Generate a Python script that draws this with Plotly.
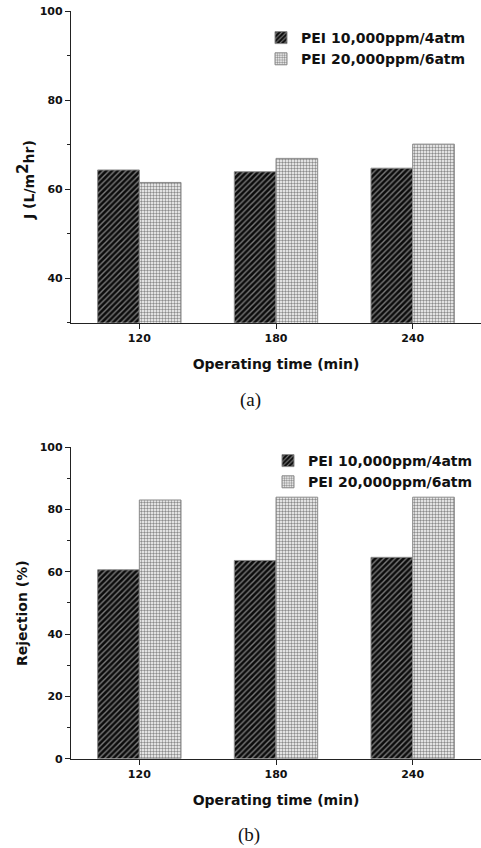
import plotly.graph_objects as go

categories = ["120", "180", "240"]
series_names = ["PEI 10,000ppm/4atm", "PEI 20,000ppm/6atm"]
flux_s1 = [64.3, 63.9, 64.7]
flux_s2 = [61.5, 66.9, 70.1]
rej_s1 = [60.6, 63.6, 64.6]
rej_s2 = [83.0, 83.9, 83.9]

W, H = 481, 848
FONT = "DejaVu Sans"
AX = "#222222"

def px_x(p):
    return p / W

def px_y(p):
    return 1 - p / H

styles = [
    dict(color="#1a1a1a", line=dict(color="#8a8a8a", width=1),
         pattern=dict(shape="/", size=4, solidity=0.35, fgcolor="#7a7a7a", bgcolor="#0c0c0c", fillmode="replace")),
    dict(color="#ffffff", line=dict(color="#8a8a8a", width=1),
         pattern=dict(shape=".", size=3, solidity=0.5, fgcolor="#8c8c8c", bgcolor="#ffffff", fillmode="replace")),
]

fig = go.Figure()
for i, (vals, name) in enumerate(zip([flux_s1, flux_s2], series_names)):
    fig.add_trace(go.Bar(x=categories, y=vals, name=name, marker=styles[i],
                         xaxis="x", yaxis="y", legend="legend"))
for i, (vals, name) in enumerate(zip([rej_s1, rej_s2], series_names)):
    fig.add_trace(go.Bar(x=categories, y=vals, name=name, marker=styles[i],
                         xaxis="x3", yaxis="y3", legend="legend2"))

xdom = [px_x(71), 1.0]
top_dom = [px_y(322.7), px_y(11)]
bot_dom = [px_y(758.7), px_y(447)]

tickfont = dict(family=FONT, size=11, color="#111", weight="bold")
titlefont = dict(family=FONT, size=14, color="#111", weight="bold")

def xcat(domain, anchor, title):
    return dict(domain=domain, anchor=anchor, type="category", range=[-0.5, 2.5],
                automargin=False,
                showline=True, linecolor=AX, linewidth=1.2, ticks="outside", ticklen=5,
                tickcolor=AX, tickwidth=1.2, tickfont=tickfont, showgrid=False, zeroline=False,
                title=dict(text=title, font=titlefont, standoff=15))

def xtop(domain, overlay, anchor):
    return dict(domain=domain, overlaying=overlay, anchor=anchor, side="top", range=[0, 10],
                automargin=False,
                dtick=1, showline=True, linecolor=AX, linewidth=1.2, ticks="inside", ticklen=3,
                tickcolor=AX, showticklabels=False, showgrid=False, zeroline=False)

def yax(domain, anchor, rng):
    return dict(domain=domain, anchor=anchor, range=rng, dtick=20, tick0=0,
                automargin=False,
                showline=True, linecolor=AX, linewidth=1.2, ticks="outside", ticklen=5,
                tickcolor=AX, tickwidth=1.2, tickfont=tickfont, showgrid=False, zeroline=False,
                minor=dict(dtick=10, ticks="outside", ticklen=3, tickcolor=AX))

legfont = dict(family=FONT, size=14, color="#111", weight="bold")

fig.update_layout(
    width=W, height=H, margin=dict(l=0, r=0, t=0, b=0),
    paper_bgcolor="white", plot_bgcolor="white",
    barmode="group", bargap=0.39, bargroupgap=0,
    xaxis=xcat(xdom, "y", "Operating time (min)"),
    xaxis2=xtop(xdom, "x", "y"),
    yaxis=yax(top_dom, "x", [30, 100]),
    xaxis3=xcat(xdom, "y3", "Operating time (min)"),
    xaxis4=xtop(xdom, "x3", "y3"),
    yaxis3=yax(bot_dom, "x3", [0, 100]),
    legend=dict(x=px_x(261), y=px_y(22), xanchor="left", yanchor="top",
                bgcolor="rgba(0,0,0,0)", itemwidth=30, tracegroupgap=0, font=legfont),
    legend2=dict(x=px_x(268), y=px_y(445), xanchor="left", yanchor="top",
                 bgcolor="rgba(0,0,0,0)", itemwidth=30, tracegroupgap=0, font=legfont),
    showlegend=True,
)

annos = [
    dict(text="J (L/m<sup><span style='font-size:15px'>2</span></sup>hr)", x=px_x(25), y=px_y(180),
         textangle=-90, font=titlefont),
    dict(text="Rejection (%)", x=px_x(22), y=px_y(613), textangle=-90, font=titlefont),
    dict(text="(a)", x=px_x(250), y=px_y(400), font=dict(family="Liberation Serif", size=19, color="#111")),
    dict(text="(b)", x=px_x(249), y=px_y(835), font=dict(family="Liberation Serif", size=19, color="#111")),
]
for a in annos:
    fig.add_annotation(xref="paper", yref="paper", showarrow=False,
                       xanchor="center", yanchor="middle", **a)

fig.write_html("out.html", config={"displayModeBar": False},
               post_script="document.body.style.margin='0px';")
